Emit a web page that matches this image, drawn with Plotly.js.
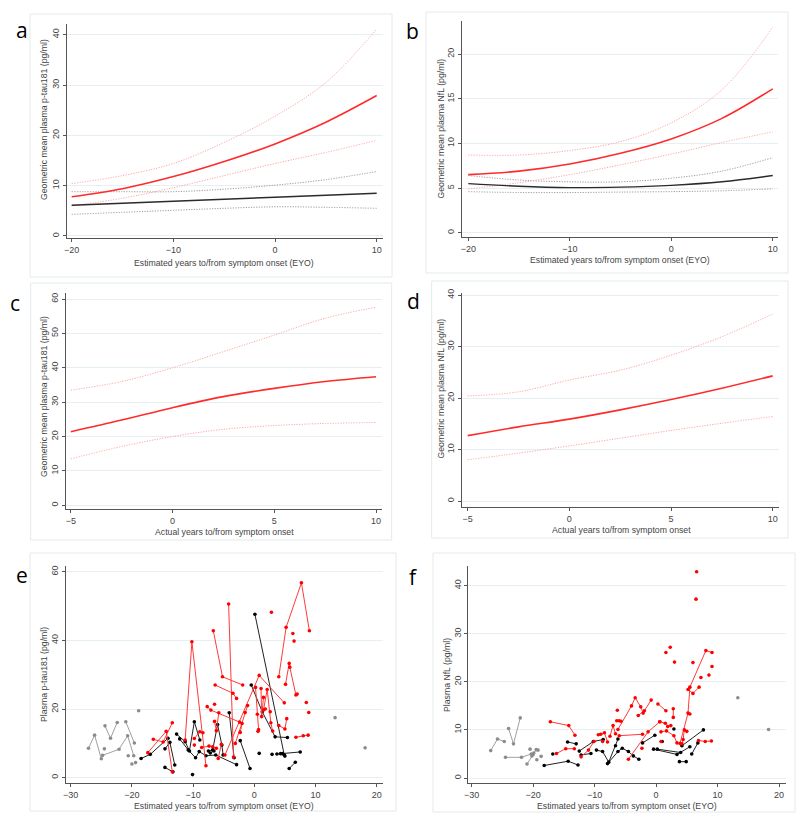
<!DOCTYPE html>
<html>
<head>
<meta charset="utf-8">
<script src="https://cdn.plot.ly/plotly-3.0.1.min.js"></script>
<style>html,body{margin:0;padding:0;background:#fff;}#chart{width:800px;height:825px;}</style>
</head>
<body>
<div id="chart"></div>
<script>
// ---------- Panels a & b: EYO model fits ----------
const eyoX = [-20, -15, -10, -5, 0, 5, 10];
const aRed   = [7.8, 9.4, 11.8, 14.8, 18.3, 22.6, 27.9];
const aRedHi = [10.4, 12.0, 14.4, 18.6, 23.8, 30.5, 41.1];
const aRedLo = [6.0, 7.5, 9.6, 12.0, 14.4, 16.6, 19.0];
const aBlk   = [6.1, 6.5, 6.9, 7.3, 7.7, 8.1, 8.5];
const aBlkHi = [8.8, 8.8, 8.8, 9.3, 10.1, 11.2, 12.8];
const aBlkLo = [4.3, 4.7, 5.1, 5.5, 5.8, 5.7, 5.5];

const bRed   = [6.5, 6.9, 7.7, 8.9, 10.5, 12.8, 16.1];
const bRedHi = [8.7, 8.7, 9.2, 10.2, 12.3, 16.0, 23.0];
const bRedLo = [4.9, 5.6, 6.5, 7.6, 8.8, 10.1, 11.3];
const bBlk   = [5.5, 5.2, 5.05, 5.1, 5.3, 5.7, 6.4];
const bBlkHi = [6.4, 5.9, 5.7, 5.7, 6.1, 6.9, 8.4];
const bBlkLo = [4.6, 4.5, 4.5, 4.55, 4.6, 4.7, 4.9];

// ---------- Panels c & d: actual years model fits ----------
const ayoX = [-5, -2.5, 0, 2.5, 5, 7.5, 10];
const cRed   = [21.4, 24.8, 28.4, 31.6, 34.0, 36.0, 37.4];
const cRedHi = [33.5, 36.0, 40.0, 44.7, 49.5, 54.4, 57.6];
const cRedLo = [13.5, 17.1, 20.0, 22.1, 23.2, 23.8, 24.1];
const dRed   = [12.7, 14.4, 15.9, 17.7, 19.7, 21.9, 24.3];
const dRedHi = [20.4, 21.2, 23.5, 25.4, 28.3, 31.9, 36.3];
const dRedLo = [8.0, 9.3, 10.7, 12.2, 13.7, 15.1, 16.4];

// ---------- Panel e: individual p-tau181 trajectories (null separates participants) ----------
const eGreyX = [-27.1,-26.1,-25.0,null, -24.8,-22.1,-20.7,-19.7,null, -24.4,-23.5,-22.4,null, -21.0,-19.6,null, -24.5,null, -20.6,null, -20.0,null, -19.4,null, -18.9,null, 13.2,null, 18.1];
const eGreyY = [8.6,12.4,5.5,null, 6.5,8.3,12.2,6.4,null, 15.1,11.5,16.1,null, 16.3,10.1,null, 8.4,null, 6.4,null, 4.0,null, 4.4,null, 19.5,null, 17.5,null, 8.7];

const eRedX = [-17.4,-14.4,-13.4,null, -16.5,-14.9,-13.4,null, -11.3,-10.2,-7.9,null, -9.8,-8.9,-8.4,null, -9.8,null,
  -6.7,-5.2,-1.9,null, -4.2,-3.4,null, -6.4,-3.5,-2.9,null, -7.7,-7.1,-2.4,null, -6.5,null,
  -8.6,-7.4,-6.8,-6.2,null, -5.9,-5.4,null, -6.5,-6.2,-5.8,null, -4.8,0.8,4.9,null, -3.1,-1.5,-1.1,null,
  0.2,0.5,0.7,null, 1.1,1.2,1.5,null, 1.5,2.1,2.7,3.0,null, 0.6,null, 1.8,null, 2.6,null,
  4.0,5.2,7.7,9.0,null, 5.1,5.7,5.8,6.8,7.0,null, 2.8,null, 6.3,null, 6.5,null, 4.0,5.0,5.3,null,
  6.8,8.0,8.8,null, 8.5,null, 8.9,null, -2.3,-2.0];
const eRedY = [7.3,13.5,1.7,null, 11.2,10.4,16.0,null, 11.0,39.6,3.5,null, 11.4,13.4,13.1,null, 9.5,null,
  42.8,29.4,27.0,null, 50.6,6.0,null, 27.0,24.6,23.1,null, 20.7,19.7,16.2,null, 21.4,null,
  8.8,9.2,9.0,8.6,null, 5.6,9.7,null, 16.4,13.7,18.9,null, 6.6,29.8,21.8,null, 10.0,19.0,21.0,null,
  26.3,18.5,14.0,null, 26.0,17.8,23.4,null, 19.7,25.7,16.0,13.6,null, 13.5,null, 20.0,null, 19.2,null,
  29.4,43.8,56.8,42.8,null, 27.2,33.3,32.2,24.1,24.4,null, 48.2,null, 42.0,null, 39.8,null, 15.2,14.2,17.2,null,
  11.8,12.2,12.4,null, 21.9,null, 19.0,null, 13.2,15.8];

const eBlkX = [-18.5,-17.0,-14.1,null, -14.6,-13.8,-13.0,null, -14.6,-13.3,null, -12.7,-11.3,-10.6,-9.8,-8.9,null, -10.1,null,
  -12.2,-10.8,-9.6,-9.0,-7.9,-6.3,-2.9,null, -7.5,-6.8,-6.0,-5.3,-5.1,null, -4.1,-3.3,null, -2.3,-0.7,null,
  -0.5,1.3,3.4,5.4,null, 0.1,4.9,null, 5.7,6.7,null, 3.7,7.5,null, 0.8,null, 2.9,null, 4.3,null, 4.6,null, 5.0,null, -7.2,-6.6];
const eBlkY = [5.6,6.8,11.5,null, 8.4,10.3,3.7,null, 3.0,1.7,null, 12.7,10.5,7.8,16.3,11.0,null, 0.9,null,
  11.3,8.1,5.8,7.6,6.4,6.6,3.8,null, 7.8,8.1,15.5,9.5,6.6,null, 18.9,5.8,null, 10.8,2.7,null,
  27.0,19.2,11.9,11.7,null, 47.6,6.6,null, 2.7,4.5,null, 6.9,7.5,null, 7.1,null, 6.8,null, 7.0,null, 7.0,null, 6.3,null, 7.2,7.8];

// ---------- Panel f: individual NfL trajectories ----------
const fGreyX = [-26.9,-25.8,-24.7,null, -24.0,-23.2,-22.1,null, -24.5,-21.9,-20.3,null, -21.0,-20.0,-19.5,null,
  -20.5,null, -19.9,null, -19.2,null, -19.4,null, -18.7,null, -20.2,null, 13.3,null, 18.3];
const fGreyY = [5.7,8.1,7.6,null, 10.3,7.1,12.5,null, 4.3,4.3,5.0,null, 2.9,4.9,5.9,null,
  6.0,null, 5.2,null, 5.8,null, 3.8,null, 4.5,null, 4.6,null, 16.7,null, 10.1];

const fRedX = [-17.2,-14.2,-13.2,null, -16.2,-14.7,-13.3,null, -12.2,-11.0,-10.1,null, -9.0,-8.4,-7.9,null, -7.5,-7.0,-6.6,null,
  -6.4,-6.0,-5.7,null, -6.3,null, -6.2,-4.0,-3.4,-2.5,-2.1,null, -2.9,-1.9,-0.8,null, -6.0,-2.2,null, -4.5,-1.3,0.6,null,
  -2.3,null, 0.3,1.6,null, 0.6,1.5,1.9,2.4,null, 0.8,1.7,2.9,3.4,null, 0.8,null, 2.8,2.8,null, 4.2,4.4,4.6,5.0,null,
  3.9,5.2,5.5,8.1,9.1,null, 5.2,6.0,7.0,null, 6.9,8.0,9.0,null, 6.6,null, 6.5,null, 1.6,null, 2.3,null, 3.0,null,
  6.0,null, 7.3,null, 8.6,null, 9.1,null, 5.5,null, -8.7,null, -9.4];
const fRedY = [11.7,10.9,8.9,null, 5.1,6.1,6.1,null, 4.4,5.8,7.6,null, 9.1,9.4,7.5,null, 8.7,10.9,9.2,null,
  11.9,11.9,11.8,null, 14.1,null, 10.1,15.0,16.7,14.8,13.5,null, 13.0,14.0,16.2,null, 8.8,9.1,null, 3.9,9.6,11.7,null,
  6.2,null, 15.4,14.0,null, 11.7,11.4,10.7,10.9,null, 9.6,9.8,8.8,7.3,null, 7.6,null, 12.6,14.4,null, 7.1,8.0,10.0,9.7,null,
  7.2,13.5,18.9,26.5,26.1,null, 18.4,17.6,18.9,null, 7.8,7.6,7.7,null, 42.9,null, 37.2,null, 26.1,null, 27.2,null, 24.1,null,
  24.0,null, 20.9,null, 21.4,null, 23.2,null, 13.3,null, 7.6,null, 9.0];

const fBlkX = [-18.2,-14.3,-12.7,null, -14.4,-13.0,null, -16.8,null, -12.5,-10.2,-8.6,null, -12.2,-10.6,null,
  -9.7,-8.7,-7.7,-6.6,-6.2,null, -7.9,-6.2,-5.5,-4.5,-3.7,-2.8,null, -2.2,-0.2,null, -0.4,3.4,5.5,null,
  0.2,4.0,null, 1.0,null, 2.9,null, 4.2,7.7,null, 3.8,4.9,null, 5.8,6.8];
const fBlkY = [2.6,3.5,2.7,null, 7.5,7.1,null, 5.0,null, 5.6,7.6,8.0,null, 4.8,5.1,null,
  5.8,5.5,3.3,6.7,8.1,null, 3.0,5.5,6.2,5.5,4.6,3.9,null, 7.3,8.9,null, 6.0,4.9,6.5,null,
  6.0,5.3,null, 7.6,null, 10.2,null, 6.7,10.0,null, 3.4,3.4,null, 5.0,7.3];

// ---------- Text ----------
const xTitleEYO = 'Estimated years to/from symptom onset (EYO)';
const xTitleAct = 'Actual years to/from symptom onset';
const yTitles = ['Geometric mean plasma p-tau181 (pg/ml)', 'Geometric mean plasma NfL (pg/ml)',
                 'Geometric mean plasma p-tau181 (pg/ml)', 'Geometric mean plasma NfL (pg/ml)',
                 'Plasma p-tau181 (pg/ml)', 'Plasma NfL (pg/ml)'];
const panelLetters = ['a', 'b', 'c', 'd', 'e', 'f'];

// ---------- Styling ----------
const FONT = 'Liberation Sans, Arial, sans-serif';
const RED = '#ff2b2b', PINK = '#ffa3a3', BLK = '#2b2b2b', GREYDOT = '#9a9a9a';
const DOT = '1.2px,1.4px';
const W = 800, H = 825;
const px = v => v / W, py = v => 1 - v / H;

function fitLine(x, y, ax, color, dash, width) {
  return {x: x, y: y, xaxis: 'x' + ax, yaxis: 'y' + ax, type: 'scatter', mode: 'lines',
          line: {color: color, dash: dash, width: width, shape: 'spline', smoothing: 1},
          hoverinfo: 'skip', showlegend: false};
}
function spag(x, y, ax, color, lc) {
  return {x: x, y: y, xaxis: 'x' + ax, yaxis: 'y' + ax, type: 'scatter', mode: 'lines+markers',
          connectgaps: false, cliponaxis: false, line: {color: lc, width: 1}, marker: {color: color, size: 3.6},
          hoverinfo: 'skip', showlegend: false};
}

const traces = [
  fitLine(eyoX, aBlkHi, '', GREYDOT, DOT, 1), fitLine(eyoX, aBlkLo, '', GREYDOT, DOT, 1),
  fitLine(eyoX, aRedHi, '', PINK, DOT, 1), fitLine(eyoX, aRedLo, '', PINK, DOT, 1),
  fitLine(eyoX, aBlk, '', BLK, 'solid', 1.4), fitLine(eyoX, aRed, '', RED, 'solid', 1.6),

  fitLine(eyoX, bBlkHi, '2', GREYDOT, DOT, 1), fitLine(eyoX, bBlkLo, '2', GREYDOT, DOT, 1),
  fitLine(eyoX, bRedHi, '2', PINK, DOT, 1), fitLine(eyoX, bRedLo, '2', PINK, DOT, 1),
  fitLine(eyoX, bBlk, '2', BLK, 'solid', 1.4), fitLine(eyoX, bRed, '2', RED, 'solid', 1.6),

  fitLine(ayoX, cRedHi, '3', PINK, DOT, 1), fitLine(ayoX, cRedLo, '3', PINK, DOT, 1),
  fitLine(ayoX, cRed, '3', RED, 'solid', 1.6),

  fitLine(ayoX, dRedHi, '4', PINK, DOT, 1), fitLine(ayoX, dRedLo, '4', PINK, DOT, 1),
  fitLine(ayoX, dRed, '4', RED, 'solid', 1.6),

  spag(eGreyX, eGreyY, '5', '#8c8c8c', '#a0a0a0'),
  spag(eBlkX, eBlkY, '5', '#000000', '#222222'),
  spag(eRedX, eRedY, '5', '#ff0000', '#ff3a3a'),

  spag(fGreyX, fGreyY, '6', '#8c8c8c', '#a0a0a0'),
  spag(fBlkX, fBlkY, '6', '#000000', '#222222'),
  spag(fRedX, fRedY, '6', '#ff0000', '#ff3a3a')
];

// panel geometry (pixels): x-axis extent, y-axis extent, ranges, ticks
const panels = [
  {x0: 66.7, x1: 382.7, y0: 24, y1: 238, xr: [-20.49, 10.59], yr: [-0.4, 42.12], xt: [-20, -10, 0, 10], yt: [0, 10, 20, 30, 40]},
  {x0: 461.7, x1: 778.3, y0: 20.7, y1: 237.3, xr: [-20.65, 10.55], yr: [-0.51, 23.73], xt: [-20, -10, 0, 10], yt: [0, 5, 10, 15, 20]},
  {x0: 65.7, x1: 381.7, y0: 293.3, y1: 509.3, xr: [-5.25, 10.28], yr: [-1.16, 61.66], xt: [-5, 0, 5, 10], yt: [0, 10, 20, 30, 40, 50, 60]},
  {x0: 462, x1: 779, y0: 293.3, y1: 506.7, xr: [-5.28, 10.31], yr: [-1.1, 40.33], xt: [-5, 0, 5, 10], yt: [0, 10, 20, 30, 40]},
  {x0: 65.7, x1: 382.7, y0: 566, y1: 783.3, xr: [-30.82, 20.98], yr: [-1.63, 61.67], xt: [-30, -20, -10, 0, 10, 20], yt: [0, 20, 40, 60]},
  {x0: 468.3, x1: 785.7, y0: 566, y1: 783.3, xr: [-30.55, 21.09], yr: [-1.1, 44.09], xt: [-30, -20, -10, 0, 10, 20], yt: [0, 10, 20, 30, 40]}
];

const layout = {
  width: W, height: H, margin: {l: 0, r: 0, t: 0, b: 0},
  paper_bgcolor: '#ffffff', plot_bgcolor: '#ffffff', showlegend: false,
  font: {family: FONT, color: '#444'},
  shapes: [], annotations: []
};

const tickFont = {family: FONT, size: 9, color: '#444'};
panels.forEach((p, i) => {
  const n = i === 0 ? '' : String(i + 1);
  layout['xaxis' + n] = {
    domain: [px(p.x0), px(p.x1)], range: p.xr, anchor: 'y' + n,
    tickmode: 'array', tickvals: p.xt, ticks: 'outside', ticklen: 3, tickcolor: '#555', tickwidth: 1,
    showline: true, linecolor: '#555', linewidth: 1, showgrid: false, zeroline: false,
    tickfont: tickFont, fixedrange: true
  };
  layout['yaxis' + n] = {
    domain: [py(p.y1), py(p.y0)], range: p.yr, anchor: 'x' + n,
    tickmode: 'array', tickvals: p.yt, ticks: 'outside', ticklen: 3, tickcolor: '#555', tickwidth: 1,
    showline: true, linecolor: '#555', linewidth: 1, showgrid: true, gridcolor: '#e6eff1', gridwidth: 1,
    zeroline: false, tickangle: -90, tickfont: tickFont, fixedrange: true
  };
});

// panel frames (light grey outer boxes)
const frames = [[30, 14, 392, 277], [426, 12, 788, 273], [30.7, 283, 391.7, 540], [431.7, 281, 788, 538],
                [30, 553, 396, 811], [433, 553, 795, 812]];
frames.forEach(f => layout.shapes.push({type: 'rect', xref: 'paper', yref: 'paper',
  x0: px(f[0]), x1: px(f[2]), y0: py(f[3]), y1: py(f[1]), line: {color: '#e3eaec', width: 1}, layer: 'below'}));

// axis titles and letters
const xTitlePos = [[224, 263], [620, 260], [224, 532], [621, 529.5], [224, 805.5], [627, 805.5]];
const yTitlePos = [[44, 120], [440.5, 129], [44, 397], [440.5, 389], [44, 675], [447, 675]];
const letterPos = [[22, 30], [412, 31], [15, 303], [413, 301], [22, 575], [413, 577]];
const xTitles = [xTitleEYO, xTitleEYO, xTitleAct, xTitleAct, xTitleEYO, xTitleEYO];
for (let i = 0; i < 6; i++) {
  layout.annotations.push({xref: 'paper', yref: 'paper', x: px(xTitlePos[i][0]), y: py(xTitlePos[i][1]),
    text: xTitles[i], showarrow: false, xanchor: 'center', yanchor: 'middle',
    font: {family: FONT, size: 8.7, color: '#444'}});
  layout.annotations.push({xref: 'paper', yref: 'paper', x: px(yTitlePos[i][0]), y: py(yTitlePos[i][1]),
    text: yTitles[i], showarrow: false, xanchor: 'center', yanchor: 'middle', textangle: -90,
    font: {family: FONT, size: 8.7, color: '#444'}});
  layout.annotations.push({xref: 'paper', yref: 'paper', x: px(letterPos[i][0]), y: py(letterPos[i][1]),
    text: panelLetters[i], showarrow: false, xanchor: 'center', yanchor: 'middle',
    font: {family: 'Open Sans, Liberation Sans, sans-serif', size: 21, color: '#000'}});
}

Plotly.newPlot('chart', traces, layout, {displayModeBar: false, staticPlot: true});
</script>
</body>
</html>
